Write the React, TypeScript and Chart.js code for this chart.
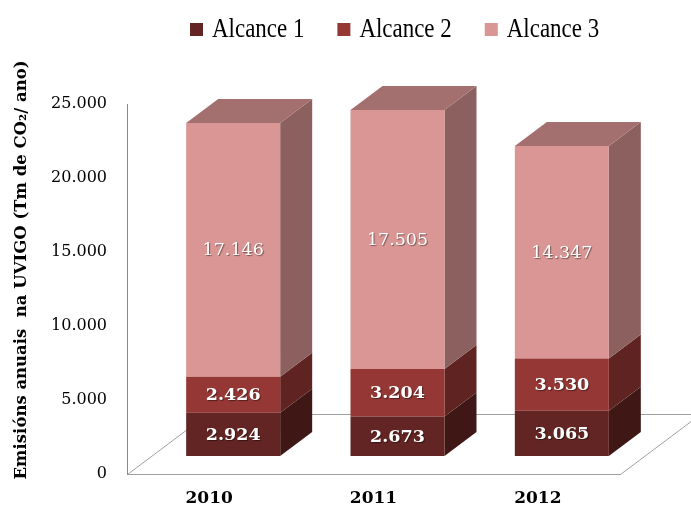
import React, { useEffect, useRef } from 'react';
import { Chart, registerables } from 'chart.js';

Chart.register(...registerables);

// ---- data ----
const categories = ['2010', '2011', '2012'];
const seriesNames = ['Alcance 1', 'Alcance 2', 'Alcance 3'];
const alcance1 = [2924, 2673, 3065];
const alcance2 = [2426, 3204, 3530];
const alcance3 = [17146, 17505, 14347];
const yTickValues = [0, 5000, 10000, 15000, 20000, 25000];
const yTitle = 'Emisións anuais  na UVIGO (Tm de CO₂/ ano)';

// ---- styles ----
const frontColors = ['#632523', '#953735', '#D99694'];
const sideColors = ['#3F1816', '#5F2322', '#8B605F'];
const topColors = ['#4A1C1A', '#702927', '#A3706F'];
const labelBold = [true, true, false];

const FRONT_OFF = { x: 24, y: -18 };
const BAR_DEPTH = { x: 32, y: -24 };
const FLOOR_DEPTH = { x: 80, y: -60 };

const fmt = (v: number) =>
  v === 0 ? '0' : String(Math.round(v)).replace(/\B(?=(\d{3})+(?!\d))/g, '.');

const threeD = {
  id: 'threeD',
  beforeDatasetsDraw(chart: any) {
    const { ctx, chartArea: a } = chart;
    // floor
    ctx.save();
    ctx.strokeStyle = '#a0a0a0';
    ctx.lineWidth = 1;
    ctx.beginPath();
    ctx.moveTo(a.left + 0.5, a.bottom + 0.5);
    ctx.lineTo(a.left + FLOOR_DEPTH.x + 0.5, a.bottom + FLOOR_DEPTH.y + 0.5);
    ctx.lineTo(a.right + FLOOR_DEPTH.x + 0.5, a.bottom + FLOOR_DEPTH.y + 0.5);
    ctx.moveTo(a.right + 0.5, a.bottom + 0.5);
    ctx.lineTo(a.right + FLOOR_DEPTH.x + 0.5, a.bottom + FLOOR_DEPTH.y + 0.5);
    ctx.stroke();
    ctx.restore();

    ctx.save();
    ctx.translate(FRONT_OFF.x, FRONT_OFF.y);
    const n = chart.data.datasets.length;
    for (let di = 0; di < n; di++) {
      const meta = chart.getDatasetMeta(di);
      meta.data.forEach((bar: any) => {
        const p = bar.getProps(['x', 'y', 'base', 'width'], true);
        const left = p.x - p.width / 2;
        const right = p.x + p.width / 2;
        const top = Math.min(p.y, p.base);
        const bottom = Math.max(p.y, p.base);
        ctx.fillStyle = sideColors[di];
        ctx.beginPath();
        ctx.moveTo(right, top);
        ctx.lineTo(right + BAR_DEPTH.x, top + BAR_DEPTH.y);
        ctx.lineTo(right + BAR_DEPTH.x, bottom + BAR_DEPTH.y);
        ctx.lineTo(right, bottom);
        ctx.closePath();
        ctx.fill();
        if (di === n - 1) {
          ctx.fillStyle = topColors[di];
          ctx.beginPath();
          ctx.moveTo(left, top);
          ctx.lineTo(left + BAR_DEPTH.x, top + BAR_DEPTH.y);
          ctx.lineTo(right + BAR_DEPTH.x, top + BAR_DEPTH.y);
          ctx.lineTo(right, top);
          ctx.closePath();
          ctx.fill();
        }
      });
    }
    // translation kept for the library's own bar drawing
  },
  afterDatasetsDraw(chart: any) {
    const { ctx } = chart;
    const n = chart.data.datasets.length;
    ctx.textAlign = 'center';
    ctx.textBaseline = 'middle';
    ctx.fillStyle = '#ffffff';
    ctx.shadowColor = 'rgba(0,0,0,0.45)';
    ctx.shadowOffsetX = 1;
    ctx.shadowOffsetY = 1;
    ctx.shadowBlur = 1;
    for (let di = 0; di < n; di++) {
      const meta = chart.getDatasetMeta(di);
      const ds = chart.data.datasets[di];
      ctx.font = (labelBold[di] ? 'bold ' : '') + '17.5px "DejaVu Serif"';
      meta.data.forEach((bar: any, i: number) => {
        const p = bar.getProps(['x', 'y', 'base'], true);
        ctx.fillText(fmt(ds.data[i] as number), p.x, (p.y + p.base) / 2 + 1);
      });
    }
    ctx.restore();
  },
  afterDraw(chart: any) {
    const { ctx } = chart;
    // y title
    ctx.save();
    ctx.translate(22, 270);
    ctx.rotate(-Math.PI / 2);
    ctx.textAlign = 'center';
    ctx.textBaseline = 'middle';
    ctx.fillStyle = '#000';
    ctx.font = 'bold 16.5px "DejaVu Serif"';
    ctx.fillText(yTitle, 0, 0);
    ctx.restore();

    // legend (condensed serif look)
    ctx.save();
    ctx.font = '27px "Liberation Serif"';
    ctx.textBaseline = 'alphabetic';
    ctx.textAlign = 'left';
    const sx = 0.85;
    let x = 190;
    chart.data.datasets.forEach((ds: any, i: number) => {
      ctx.fillStyle = frontColors[i];
      ctx.fillRect(x, 23, 13, 13);
      ctx.fillStyle = '#000';
      ctx.save();
      ctx.translate(x + 22, 37);
      ctx.scale(sx, 1);
      ctx.fillText(ds.label, 0, 0);
      ctx.restore();
      x += 22 + ctx.measureText(ds.label).width * sx + 33;
    });
    ctx.restore();
  },
};

export default function App() {
  const ref = useRef<HTMLCanvasElement | null>(null);
  useEffect(() => {
    if (!ref.current) return;
    const series = [alcance1, alcance2, alcance3];
    const chart = new Chart(ref.current, {
      type: 'bar',
      data: {
        labels: categories,
        datasets: series.map((d, i) => ({
          label: seriesNames[i],
          data: d,
          backgroundColor: frontColors[i],
          borderWidth: 0,
          barPercentage: 0.572,
          categoryPercentage: 1,
          clip: false as any,
        })),
      },
      options: {
        responsive: false,
        animation: false,
        events: [],
        layout: { padding: { top: 104, right: 71, bottom: 0, left: 0 } },
        plugins: { legend: { display: false }, tooltip: { enabled: false } },
        scales: {
          x: {
            stacked: true,
            grid: { display: false, drawTicks: false },
            border: { display: true, color: '#a0a0a0' },
            ticks: {
              color: '#000',
              font: { family: 'DejaVu Serif', weight: 'bold', size: 17 },
              padding: 14,
            },
            afterFit: (s: any) => {
              s.height = 35;
            },
          },
          y: {
            stacked: true,
            min: 0,
            max: 25000,
            afterBuildTicks: (s: any) => {
              s.ticks = yTickValues.map((v) => ({ value: v }));
            },
            grid: { display: false, drawTicks: false },
            border: { display: true, color: '#888888' },
            ticks: {
              color: '#000',
              font: { family: 'DejaVu Serif', size: 16 },
              padding: 20,
              callback: (v: any) => fmt(Number(v)),
            },
            afterFit: (s: any) => {
              s.width = 127;
            },
          },
        },
      },
      plugins: [threeD],
    });
    return () => chart.destroy();
  }, []);
  return (
    <div style={{ position: 'absolute', left: 0, top: 0, width: 691, height: 509 }}>
      <canvas ref={ref} width={691} height={509} style={{ display: 'block' }} />
    </div>
  );
}
